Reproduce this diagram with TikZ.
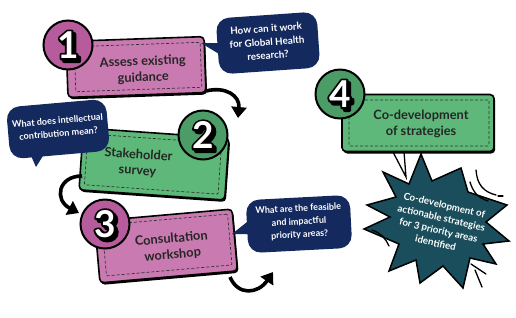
\documentclass[tikz,border=0pt]{standalone}
\usepackage{fontspec}
\setmainfont{Lato}
\usetikzlibrary{arrows.meta,shadows,calc}
\definecolor{pinkbox}{HTML}{C97AB0}
\definecolor{pinkcirc}{HTML}{B65B9C}
\definecolor{greenbox}{HTML}{5DB879}
\definecolor{greencirc}{HTML}{4C9C67}
\definecolor{navy}{HTML}{142A5E}
\definecolor{burst}{HTML}{1A4E5C}
\newcommand\strokedigit[1]{\special{pdf:literal direct 2 Tr 4.2 w 1 j 0 0 0 RG}#1\special{pdf:literal direct 0 Tr}}
\newcommand\badge[2]{%
  \node[digit,text=black] (#1s) at ([xshift=2.6pt,yshift=-2.6pt]#1) {\strokedigit{#2}};
  \node[digit,text=black] (#1o) at (#1) {\strokedigit{#2}};
  \node[digit,text=white] (#1w) at (#1) {#2};
}
\begin{document}
\begin{tikzpicture}[x=1pt,y=-1pt,
  box/.style={draw=black, line width=1.6pt, rounded corners=4pt, inner sep=0pt,
    drop shadow={shadow xshift=1.2pt,shadow yshift=-2pt,fill=black,opacity=1}},
  inbox/.style={draw=black!80, dashed, dash pattern=on 3pt off 2pt, line width=0.7pt, inner sep=0pt, rounded corners=1pt},
  circ/.style={circle, draw=black, line width=2pt, minimum size=49pt, inner sep=0pt},
  digit/.style={font=\fontsize{37}{37}\bfseries\selectfont, inner sep=0pt},
  boxtext/.style={font=\fontsize{12.8}{16}\bfseries\selectfont, align=center, text=black!85},
  bubble/.style={fill=navy, rounded corners=13pt, inner sep=0pt},
  bubtext/.style={font=\fontsize{9.8}{13.5}\bfseries\selectfont, text=white, align=center},
  arr/.style={line width=3.6pt, -{Triangle[length=11pt,width=15pt]}},
  deco/.style={line width=1.3pt, line cap=round}
]
\useasboundingbox (0,0) rectangle (516,317);

% ---------- Box 1 ----------
\node[box, fill=pinkbox, rotate=2, minimum width=138pt, minimum height=56pt] (b1) at (136,67) {};
\node[inbox, rotate=2, minimum width=126pt, minimum height=45pt] (b1i) at (138,67) {};
\node[boxtext, rotate=2] (t1) at (143,70) {Assess existing\\guidance};
\node[circ, fill=pinkcirc] (c1) at (68,45) {};
\badge{c1}{1}

% bubble 1
\node[bubble, rotate=4, minimum width=101pt, minimum height=56pt] (q1) at (268,43) {};
\coordinate (q1tip) at (201,43);
\fill[navy] ([shift={(-46pt,0pt)}]q1.center) -- (q1tip) -- ([shift={(-44pt,-14pt)}]q1.center) -- cycle;
\node[bubtext, rotate=4] (q1t) at (267,42) {How can it work\\for Global Health\\research?};

% arrow 1
\coordinate (a1s) at (206,91);
\coordinate (a1e) at (238,118);
\draw[arr] (a1s) .. controls (226,86) and (240,96) .. (a1e);

% ---------- Box 2 ----------
\node[box, fill=greenbox, rotate=-4, minimum width=146pt, minimum height=62pt] (b2) at (154,164) {};
\node[inbox, rotate=-4, minimum width=134pt, minimum height=51pt] (b2i) at (153,164) {};
\node[boxtext, rotate=-4] (t2) at (138,163) {Stakeholder\\survey};
\node[circ, fill=greencirc] (c2) at (203,135) {};
\badge{c2}{2}

% bubble 2
\node[bubble, rotate=5, minimum width=100pt, minimum height=52pt] (q2) at (58,129) {};
\coordinate (q2tip) at (36,167);
\fill[navy] ([shift={(-30pt,-20pt)}]q2.center) -- (q2tip) -- ([shift={(-12pt,-22pt)}]q2.center) -- cycle;
\node[bubtext, rotate=5, font=\fontsize{9.1}{13}\bfseries\selectfont] (q2t) at (58,127) {What does intellectual\\contribution mean?};

% arrow 2
\coordinate (a2s) at (82,176);
\coordinate (a2e) at (79,213);
\draw[arr] (a2s) .. controls (58,176) and (54,200) .. (a2e);

% ---------- Box 3 ----------
\node[box, fill=pinkbox, rotate=5, minimum width=138pt, minimum height=62pt] (b3) at (166,246) {};
\node[inbox, rotate=5, minimum width=126pt, minimum height=51pt] (b3i) at (167,245) {};
\node[boxtext, rotate=5] (t3) at (172,247) {Consultation\\workshop};
\node[circ, fill=pinkcirc] (c3) at (105,224) {};
\badge{c3}{3}

% bubble 3
\node[bubble, rotate=3, minimum width=104pt, minimum height=53pt] (q3) at (299,224) {};
\coordinate (q3tip) at (232,234);
\fill[navy] ([shift={(-47pt,6pt)}]q3.center) -- (q3tip) -- ([shift={(-47pt,-10pt)}]q3.center) -- cycle;
\node[bubtext, rotate=3, font=\fontsize{9}{13}\bfseries\selectfont] (q3t) at (299,222) {What are the feasible\\and impactful\\priority areas?};

% arrow 3
\coordinate (a3s) at (230,277);
\coordinate (a3e) at (273,272);
\draw[arr] (a3s) .. controls (238,296) and (258,294) .. (a3e);

% ---------- Box 4 ----------
\node[box, fill=greenbox, minimum width=152pt, minimum height=57pt] (b4) at (418,123) {};
\node[inbox, minimum width=140pt, minimum height=46pt] (b4i) at (419,123) {};
\node[boxtext] (t4) at (421,124) {Co-development\\of strategies};
\node[circ, fill=greencirc] (c4) at (340,94) {};
\badge{c4}{4}

% ---------- Starburst ----------
\draw[deco] (393,152) -- (406,177) -- (404,152);
\draw[fill=burst, line width=1.5pt, line join=miter]
  (383,172) -- (409,184) -- (421,154) -- (432,181) -- (461,168) -- (468,192)
  -- (507,205) -- (486,222) -- (509,241) -- (483,244) -- (496,264) -- (470,258)
  -- (463,288) -- (443,266) -- (420,283) -- (416,260) -- (389,271) -- (399,244)
  -- (364,229) -- (390,217) -- (367,205) -- (396,197) -- cycle;
\node[bubtext, rotate=-13, font=\fontsize{9.7}{13}\bfseries\selectfont] (st) at (440,224)
  {Co-development of\\actionable strategies\\for 3 priority areas\\identified};
% decorations
\draw[deco] (476,170) .. controls (477,185) and (484,192) .. (496,195);
\draw[deco] (470,182) .. controls (473,192) and (478,198) .. (488,201);
\draw[deco] (498,196) -- (503,196);
\draw[deco] (372,230) .. controls (381,233) and (386,239) .. (389,246);
\draw[deco] (471,264) -- (486,274);
\draw[deco] (475,270) -- (482,287);
\end{tikzpicture}
\end{document}
